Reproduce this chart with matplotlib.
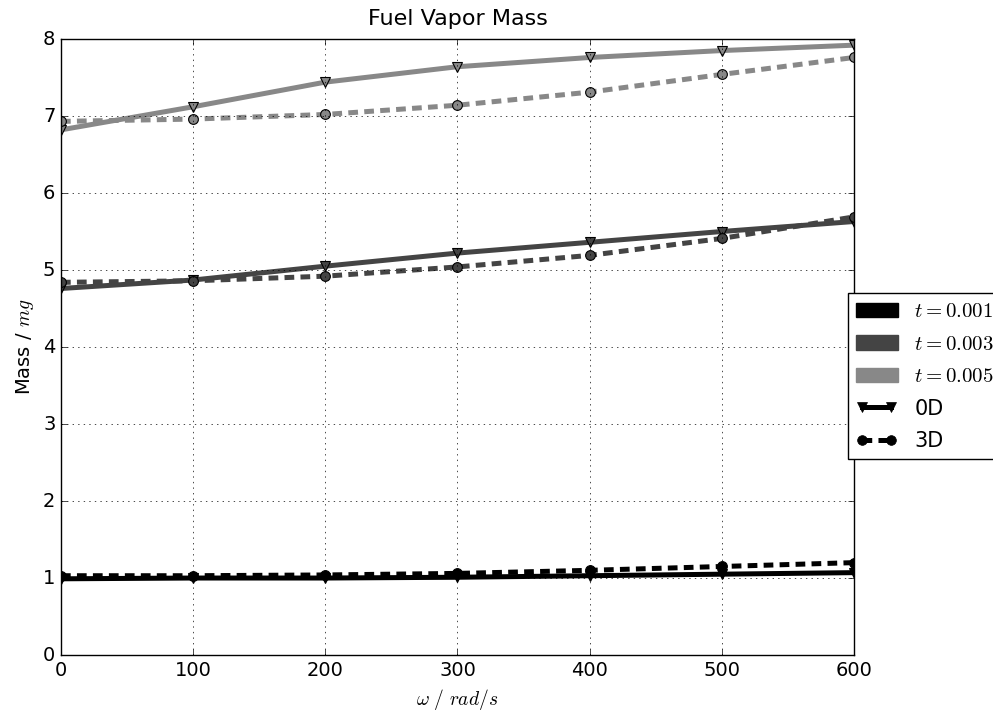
import matplotlib
matplotlib.use('Agg')
import matplotlib.pyplot as plt
import matplotlib.patches as mpatches
import matplotlib.lines as mlines

plt.style.use('classic')
plt.rcParams['font.size'] = 14

# angular speed (rad/s)
omega = [0, 100, 200, 300, 400, 500, 600]

# fuel vapor mass (mg), 0D model
m0d_t001 = [0.99, 1.00, 1.00, 1.01, 1.03, 1.05, 1.07]
m0d_t003 = [4.76, 4.87, 5.05, 5.22, 5.36, 5.50, 5.63]
m0d_t005 = [6.82, 7.12, 7.44, 7.64, 7.76, 7.85, 7.92]

# fuel vapor mass (mg), 3D model
m3d_t001 = [1.03, 1.03, 1.04, 1.06, 1.10, 1.15, 1.20]
m3d_t003 = [4.84, 4.86, 4.92, 5.04, 5.19, 5.41, 5.69]
m3d_t005 = [6.93, 6.96, 7.02, 7.14, 7.31, 7.54, 7.76]

times = ['0.001', '0.003', '0.005']
colors = ['black', '#444444', '#888888']
series_0d = [m0d_t001, m0d_t003, m0d_t005]
series_3d = [m3d_t001, m3d_t003, m3d_t005]

fig = plt.figure(figsize=(9.93, 7.13), dpi=100, facecolor='white')
ax = fig.add_axes([0.0614, 0.0813, 0.7986, 0.864])

for c, y0, y3 in zip(colors, series_0d, series_3d):
    ax.plot(omega, y0, color=c, lw=3.6, marker='v', markersize=7,
            markerfacecolor=c, markeredgecolor='black', markeredgewidth=0.8)
    ax.plot(omega, y3, color=c, lw=3.6, ls='--', dashes=(7, 4.5), marker='o',
            markersize=7, markerfacecolor=c, markeredgecolor='black',
            markeredgewidth=0.8)

ax.set_xlim(0, 600)
ax.set_ylim(0, 8)
ax.grid(True)
ax.set_title('Fuel Vapor Mass', fontsize=16, pad=10)
ax.set_xlabel(r'$\omega\ /\ rad/s$')
ax.set_ylabel('Mass / $mg$')

handles = [mpatches.Patch(color=c, label='$t=%s$' % t) for c, t in zip(colors, times)]
handles.append(mlines.Line2D([], [], color='black', lw=3.6, marker='v', markersize=7,
                             label='0D'))
handles.append(mlines.Line2D([], [], color='black', lw=3.6, ls='--', dashes=(7, 4.5),
                             marker='o', markersize=7, label='3D'))
ax.legend(handles=handles, loc='upper left', bbox_to_anchor=(0.992, 0.588),
          borderaxespad=0, numpoints=2, fontsize=15, labelspacing=0.6)

fig.savefig('out.png', dpi=100, facecolor='white')
